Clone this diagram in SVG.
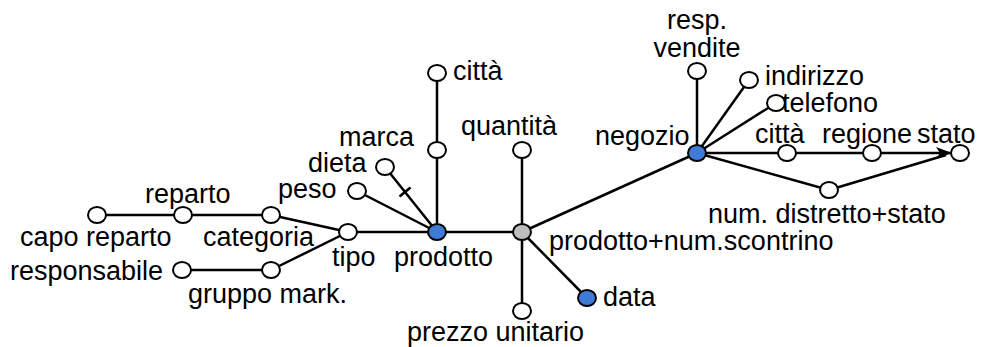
<svg xmlns="http://www.w3.org/2000/svg" width="984" height="347" viewBox="0 0 984 347">
<defs>
<style>
.edge{stroke:#000;stroke-width:2.5;fill:none}
.n{fill:#fff;stroke:#000;stroke-width:2}
.b{fill:#3f7ad6;stroke:#000;stroke-width:2}
.g{fill:#bdbdbd;stroke:#000;stroke-width:2}
text{font-family:"Liberation Sans",Arial,Helvetica,sans-serif;font-size:27px;fill:#000}
</style>
<marker id="arr" viewBox="0 0 16 12" refX="15" refY="6" markerWidth="16" markerHeight="12" orient="auto" markerUnits="userSpaceOnUse">
<path d="M0,0 L16,6 L0,12 L4,6 Z" fill="#000"/>
</marker>
</defs>
<rect width="984" height="347" fill="#fff"/>
<g id="connectors">
<line class="edge" x1="97" y1="215" x2="183" y2="215"/>
<line class="edge" x1="183" y1="215" x2="271" y2="215"/>
<line class="edge" x1="271" y1="215" x2="348" y2="232"/>
<line class="edge" x1="182" y1="270" x2="271" y2="270"/>
<line class="edge" x1="271" y1="270" x2="348" y2="232"/>
<line class="edge" x1="348" y1="232" x2="437" y2="232"/>
<line class="edge" x1="357" y1="191" x2="437" y2="232"/>
<line class="edge" x1="385" y1="167" x2="437" y2="232"/>
<line class="edge" x1="399.5" y1="196.4" x2="410.5" y2="187.6"/>
<line class="edge" x1="437" y1="150" x2="437" y2="232"/>
<line class="edge" x1="437" y1="73" x2="437" y2="150"/>
<line class="edge" x1="437" y1="232" x2="522" y2="232"/>
<line class="edge" x1="522" y1="150" x2="522" y2="232"/>
<line class="edge" x1="522" y1="232" x2="522" y2="311"/>
<line class="edge" x1="522" y1="232" x2="587" y2="298"/>
<line class="edge" x1="522" y1="232" x2="697" y2="153"/>
<line class="edge" x1="697" y1="71" x2="697" y2="153"/>
<line class="edge" x1="749" y1="80" x2="697" y2="153"/>
<line class="edge" x1="776" y1="103" x2="697" y2="153"/>
<line class="edge" x1="697" y1="153" x2="787" y2="153"/>
<line class="edge" x1="787" y1="153" x2="872" y2="153"/>
<line class="edge" x1="872" y1="153" x2="951" y2="153" marker-end="url(#arr)"/>
<line class="edge" x1="697" y1="153" x2="829" y2="190"/>
<line class="edge" x1="829" y1="190" x2="946" y2="155"/>
</g>
<g id="capo_reparto"><ellipse class="n" cx="97" cy="215" rx="9" ry="8"/><text x="20" y="246">capo reparto</text></g>
<g id="reparto"><ellipse class="n" cx="183" cy="215" rx="9" ry="8"/><text x="145" y="203">reparto</text></g>
<g id="categoria"><ellipse class="n" cx="271" cy="215" rx="9" ry="8"/><text x="203" y="246">categoria</text></g>
<g id="responsabile"><ellipse class="n" cx="182" cy="270" rx="9" ry="8"/><text x="10" y="280">responsabile</text></g>
<g id="gruppo_mark"><ellipse class="n" cx="271" cy="270" rx="9" ry="8"/><text x="188" y="303">gruppo mark.</text></g>
<g id="tipo"><ellipse class="n" cx="348" cy="232" rx="9" ry="8"/><text x="332" y="266">tipo</text></g>
<g id="prodotto"><ellipse class="b" cx="437" cy="232" rx="9" ry="8"/><text x="394" y="266">prodotto</text></g>
<g id="peso"><ellipse class="n" cx="357" cy="191" rx="9" ry="8"/><text x="278" y="198">peso</text></g>
<g id="dieta"><ellipse class="n" cx="385" cy="167" rx="9" ry="8"/><text x="308" y="172">dieta</text></g>
<g id="marca"><ellipse class="n" cx="437" cy="150" rx="9" ry="8"/><text x="339" y="146">marca</text></g>
<g id="citta_prodotto"><ellipse class="n" cx="437" cy="73" rx="9" ry="8"/><text x="453" y="80">città</text></g>
<g id="fatto"><ellipse class="g" cx="522" cy="232" rx="9" ry="8"/><text x="549" y="250">prodotto+num.scontrino</text></g>
<g id="quantita"><ellipse class="n" cx="522" cy="150" rx="9" ry="8"/><text x="461" y="135">quantità</text></g>
<g id="prezzo_unitario"><ellipse class="n" cx="522" cy="311" rx="9" ry="8"/><text x="407" y="341">prezzo unitario</text></g>
<g id="data"><ellipse class="b" cx="587" cy="298" rx="9" ry="8"/><text x="603" y="306">data</text></g>
<g id="negozio"><ellipse class="b" cx="697" cy="153" rx="9" ry="8"/><text x="595" y="145">negozio</text></g>
<g id="resp_vendite"><ellipse class="n" cx="697" cy="71" rx="9" ry="8"/><text x="697" y="29" text-anchor="middle">resp.</text><text x="697" y="57" text-anchor="middle">vendite</text></g>
<g id="indirizzo"><ellipse class="n" cx="749" cy="80" rx="9" ry="8"/><text x="765" y="85">indirizzo</text></g>
<g id="telefono"><ellipse class="n" cx="776" cy="103" rx="9" ry="8"/><text x="782" y="112">telefono</text></g>
<g id="citta_negozio"><ellipse class="n" cx="787" cy="153" rx="9" ry="8"/><text x="755" y="143">città</text></g>
<g id="regione"><ellipse class="n" cx="872" cy="153" rx="9" ry="8"/><text x="822" y="143">regione</text></g>
<g id="stato"><ellipse class="n" cx="960" cy="153" rx="9" ry="8"/><text x="917" y="143">stato</text></g>
<g id="num_distretto"><ellipse class="n" cx="829" cy="190" rx="9" ry="8"/><text x="708" y="223">num. distretto+stato</text></g>
</svg>
